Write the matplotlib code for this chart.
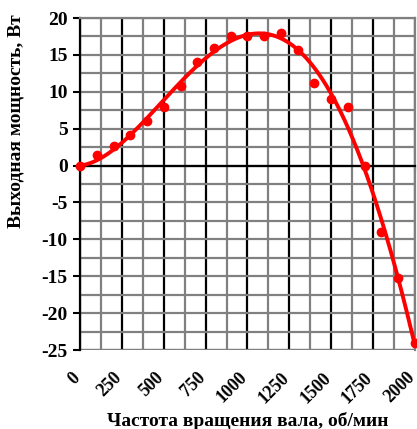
import numpy as np
import matplotlib
matplotlib.use("Agg")
import matplotlib.pyplot as plt
import matplotlib.transforms as mtransforms
from matplotlib.ticker import MultipleLocator

plt.rcParams['font.family'] = ['Liberation Serif', 'DejaVu Serif']
plt.rcParams['font.weight'] = 'bold'
plt.rcParams['axes.unicode_minus'] = False

# measured points
speed = [0, 100, 200, 300, 400, 500, 600, 700, 800, 900, 1000,
         1100, 1200, 1300, 1400, 1500, 1600, 1700, 1800, 1900, 2000]
power = [0, 1.5, 2.7, 4.2, 6.0, 8.0, 10.8, 14.0, 16.0, 17.6, 17.5,
         17.6, 18.0, 15.6, 11.2, 9.0, 8.0, 0.0, -9.0, -15.3, -24.1]
xticks = [0, 250, 500, 750, 1000, 1250, 1500, 1750, 2000]
yticks = [-25, -20, -15, -10, -5, 0, 5, 10, 15, 20]

fig = plt.figure(figsize=(4.17, 4.29), dpi=100)
ax = fig.add_axes([0.192, 0.184, 0.803, 0.774])

ax.set_xlim(0, 2000)
ax.set_ylim(-25, 20)

# grid
ax.xaxis.set_major_locator(MultipleLocator(250))
ax.xaxis.set_minor_locator(MultipleLocator(125))
ax.yaxis.set_major_locator(MultipleLocator(5))
ax.yaxis.set_minor_locator(MultipleLocator(2.5))
ax.grid(axis='x', which='major', color='black', lw=1.6)
ax.grid(axis='x', which='minor', color='#808080', lw=1.6)
ax.grid(axis='y', which='both', color='#808080', lw=1.6)
ax.set_axisbelow(True)

for s in ['top', 'right']:
    ax.spines[s].set_color('#808080')
    ax.spines[s].set_linewidth(1.6)
ax.spines['left'].set_linewidth(1.6)
ax.spines['bottom'].set_position(('data', 0))
ax.spines['bottom'].set_linewidth(1.6)
ax.axhline(-25, color='#808080', lw=1.6, zorder=0.5)

ax.tick_params(axis='x', which='major', direction='out', length=4, width=1.5,
               labelbottom=False)
ax.tick_params(axis='both', which='minor', length=0)
ax.tick_params(axis='y', which='major', direction='out', length=5, width=1.5,
               labelsize=14, pad=4)
ax.set_yticks(yticks)
ax.set_xticks(xticks)

sec = ax.secondary_xaxis(0)
sec.set_xticks(xticks)
sec.tick_params(length=0, labelsize=13, pad=18)
sec.spines['bottom'].set_visible(False)
shift = mtransforms.ScaledTranslation(-3 / 100, 0, fig.dpi_scale_trans)
for lbl in sec.get_xticklabels():
    lbl.set_rotation(45)
    lbl.set_ha('right')
    lbl.set_va('center')
    lbl.set_rotation_mode('anchor')
    lbl.set_fontweight('bold')
    lbl.set_transform(lbl.get_transform() + shift)

# trendline: polynomial fit through the origin
xa = np.array(speed, dtype=float) / 1000
A = np.column_stack([xa ** k for k in range(1, 5)])
coef, *_ = np.linalg.lstsq(A, np.array(power), rcond=None)
xs = np.linspace(0, 2000, 300)
xsa = xs / 1000
ys = sum(c * xsa ** k for c, k in zip(coef, range(1, 5)))
ax.plot(xs, ys, color='red', lw=2.8, zorder=3)
ax.plot(speed, power, 'o', color='red', ms=6, zorder=4, clip_on=False)

ax.set_ylabel('Выходная мощность, Вт', fontsize=14, fontweight='bold')
ax.yaxis.set_label_coords(-0.165, 0.69)
sec.set_xlabel('Частота вращения вала, об/мин', fontsize=14, fontweight='bold',
               labelpad=4)

fig.savefig('out.png', dpi=100)
